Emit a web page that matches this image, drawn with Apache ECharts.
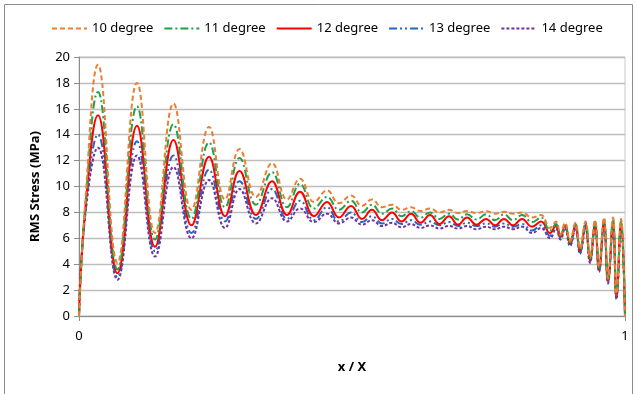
<!DOCTYPE html>
<html>
<head>
<meta charset="utf-8">
<script src="https://cdn.jsdelivr.net/npm/echarts@6/dist/echarts.min.js"></script>
<style>
  html, body { margin: 0; padding: 0; background: #fff; }
  #chart { width: 637px; height: 394px; }
</style>
</head>
<body>
<div id="chart"></div>
<script>
// positions along x / X of the peaks and troughs
const xPos = [0, 0.011, 0.0348, 0.0705, 0.1062, 0.1392, 0.1731, 0.206, 0.2381, 0.2674,
  0.294, 0.3242, 0.3535, 0.381, 0.4048, 0.4304, 0.4542, 0.4762, 0.4982, 0.5183,
  0.5366, 0.5549, 0.5733, 0.5907, 0.6081, 0.6255, 0.6429, 0.6603, 0.6777, 0.6941,
  0.7106, 0.728, 0.7454, 0.7619, 0.7784, 0.7949, 0.8114, 0.8297, 0.8462, 0.8626,
  0.8736, 0.8819, 0.8901, 0.8993, 0.9093, 0.9176, 0.9277, 0.9359, 0.9451, 0.9524,
  0.9615, 0.9689, 0.978, 0.9844, 0.9927, 1];

const deg10 = [0, 8.5, 19.4, 4.1, 18.0, 6.4, 16.4, 8.2, 14.6, 9.0,
  12.9, 9.2, 11.8, 9.0, 10.6, 8.8, 9.7, 8.7, 9.3, 8.5,
  9.0, 8.4, 8.6, 8.2, 8.4, 8.1, 8.3, 8.0, 8.2, 7.95,
  8.1, 7.95, 8.1, 7.9, 8.05, 7.9, 8.0, 7.6, 7.8, 6.8,
  7.3, 6.3, 7.2, 5.8, 7.2, 5.2, 7.3, 4.5, 7.4, 3.8,
  7.6, 2.9, 7.6, 1.7, 7.5, 0];
const deg11 = [0, 8.2, 17.3, 3.6, 16.2, 5.9, 14.8, 7.5, 13.4, 8.4,
  12.2, 8.6, 11.1, 8.4, 10.2, 8.3, 9.2, 8.2, 8.9, 8.0,
  8.6, 7.9, 8.3, 7.7, 8.1, 7.6, 8.0, 7.5, 7.9, 7.45,
  7.85, 7.45, 7.85, 7.4, 7.85, 7.4, 7.8, 7.25, 7.6, 6.6,
  7.1, 6.2, 7.1, 5.7, 7.1, 5.1, 7.2, 4.4, 7.3, 3.7,
  7.45, 2.8, 7.5, 1.6, 7.4, 0];
const deg12 = [0, 8.0, 15.5, 3.3, 14.7, 5.35, 13.6, 7.0, 12.3, 7.7,
  11.2, 7.8, 10.4, 7.8, 9.6, 7.7, 8.8, 7.6, 8.5, 7.5,
  8.2, 7.4, 8.0, 7.3, 7.9, 7.2, 7.8, 7.1, 7.7, 7.05,
  7.6, 7.05, 7.5, 7.0, 7.5, 7.0, 7.5, 6.9, 7.3, 6.4,
  7.0, 6.1, 7.0, 5.6, 7.0, 5.0, 7.05, 4.3, 7.15, 3.6,
  7.3, 2.7, 7.3, 1.5, 7.2, 0];
const deg13 = [0, 7.8, 14.0, 3.0, 13.5, 5.0, 12.4, 6.4, 11.3, 7.3,
  10.4, 7.5, 9.8, 7.5, 8.9, 7.4, 8.4, 7.3, 8.0, 7.25,
  7.7, 7.15, 7.5, 7.1, 7.4, 7.05, 7.3, 7.0, 7.25, 6.95,
  7.2, 6.95, 7.15, 6.9, 7.15, 6.9, 7.1, 6.6, 7.0, 6.2,
  6.85, 6.0, 6.9, 5.5, 6.9, 4.9, 6.9, 4.2, 7.0, 3.5,
  7.1, 2.6, 7.1, 1.4, 7.0, 0];
const deg14 = [0, 7.6, 13.0, 2.8, 12.4, 4.6, 11.5, 6.0, 10.5, 6.8,
  9.8, 7.15, 9.1, 7.3, 8.3, 7.25, 7.9, 7.15, 7.6, 7.05,
  7.4, 6.95, 7.2, 6.85, 7.1, 6.8, 7.0, 6.75, 6.95, 6.75,
  6.95, 6.7, 6.9, 6.7, 6.9, 6.7, 6.9, 6.4, 6.8, 6.0,
  6.75, 5.9, 6.8, 5.4, 6.8, 4.8, 6.8, 4.1, 6.9, 3.4,
  7.0, 2.5, 7.0, 1.3, 6.9, 0];

const seriesNames = ["10 degree", "11 degree", "12 degree", "13 degree", "14 degree"];
const seriesValues = [deg10, deg11, deg12, deg13, deg14];
const colors = ["#ED7D31", "#1FA04A", "#FF0000", "#2466C2", "#7030A0"];
const dashes = [[5, 3], [8, 3, 2, 3], "solid", [8, 3, 2, 3, 2, 3], [3, 2]];

const yTicks = { min: 0, max: 20, interval: 2 };
const xTicks = { min: 0, max: 1, interval: 1 };

const font = '"Noto Sans", "Open Sans", sans-serif';

const chart = echarts.init(document.getElementById("chart"), null, { renderer: "canvas" });

chart.setOption({
  animation: false,
  backgroundColor: "#fff",
  textStyle: { fontFamily: font },
  graphic: [
    {
      type: "rect",
      shape: { x: 4.5, y: 4.5, width: 628, height: 400 },
      style: { fill: "none", stroke: "#8c8c8c", lineWidth: 1 },
      silent: true,
    },
  ],
  legend: {
    data: seriesNames,
    left: 46,
    top: 17,
    itemGap: 10,
    itemWidth: 35,
    itemHeight: 14,
    itemStyle: { opacity: 0 },
    textStyle: { fontSize: 13, color: "#000", fontFamily: font },
  },
  grid: {
    left: 79,
    right: 12,
    top: 57,
    bottom: 78,
    show: true,
    borderColor: "#c8c8c8",
    borderWidth: 1,
  },
  xAxis: {
    type: "value",
    min: xTicks.min,
    max: xTicks.max,
    interval: xTicks.interval,
    name: "x / X",
    nameLocation: "middle",
    nameGap: 45,
    nameTextStyle: { fontSize: 13, fontWeight: "bold", color: "#000" },
    axisLine: { show: true, lineStyle: { color: "#8c8c8c", width: 1 } },
    axisTick: { show: true, length: 5, lineStyle: { color: "#8c8c8c" } },
    axisLabel: { fontSize: 13, color: "#000", margin: 14 },
    splitLine: { show: false },
  },
  yAxis: {
    type: "value",
    min: yTicks.min,
    max: yTicks.max,
    interval: yTicks.interval,
    name: "RMS Stress (MPa)",
    nameLocation: "middle",
    nameGap: 37,
    nameTextStyle: { fontSize: 13, fontWeight: "bold", color: "#000" },
    axisLine: { show: true, lineStyle: { color: "#8c8c8c", width: 1 } },
    axisTick: { show: true, length: 5, lineStyle: { color: "#8c8c8c" } },
    axisLabel: { fontSize: 13, color: "#000", margin: 9 },
    splitLine: { show: true, lineStyle: { color: "#bdbdbd", width: 1.3 } },
  },
  series: seriesNames.map((name, k) => ({
    name,
    type: "line",
    smooth: 0.45,
    symbol: "none",
    z: 10 - k,
    data: xPos.map((x, i) => [x, seriesValues[k][i]]),
    lineStyle: { color: colors[k], width: 2, type: dashes[k] },
    itemStyle: { color: colors[k] },
  })),
});
</script>
</body>
</html>
